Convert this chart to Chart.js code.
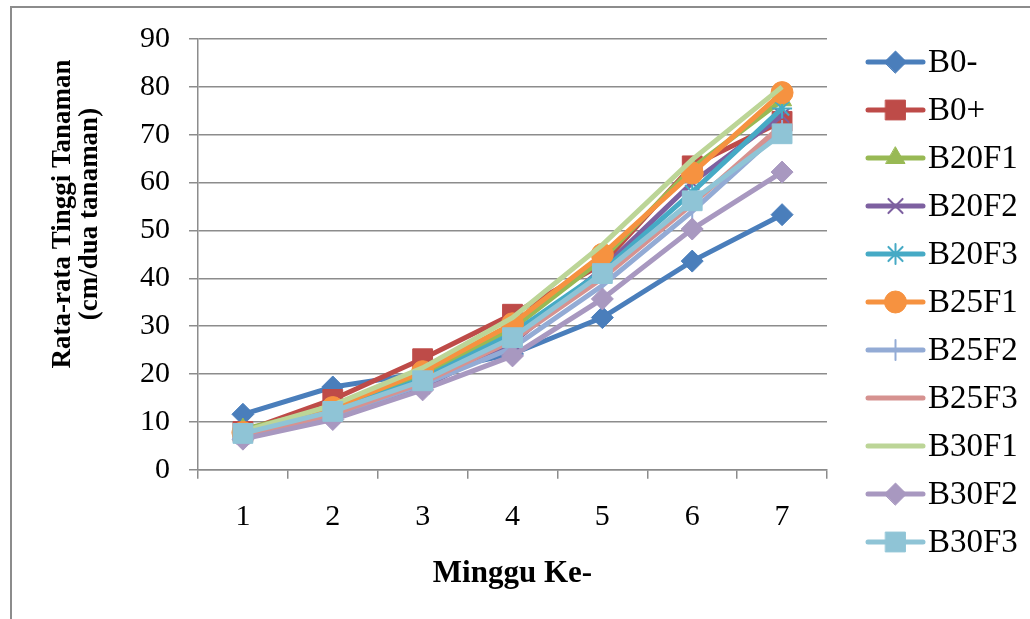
<!DOCTYPE html>
<html>
<head>
<meta charset="utf-8">
<script src="https://cdn.jsdelivr.net/npm/chart.js@4.4.1/dist/chart.umd.min.js"></script>
<style>
  html, body { margin: 0; padding: 0; background: #fff; }
  #wrap { width: 1030px; height: 619px; position: relative; }
</style>
</head>
<body>
<div id="wrap"><canvas id="chart"></canvas></div>
<script>
// minggu ke-
const weeks = ['1', '2', '3', '4', '5', '6', '7'];
const yTicks = [0, 10, 20, 30, 40, 50, 60, 70, 80, 90];

// rata-rata tinggi tanaman per perlakuan
const b0min  = [11.6, 17.3, 20.2, 24.2, 31.8, 43.6, 53.3];
const b0plus = [8.0, 14.7, 23.2, 32.5, 43.0, 63.5, 72.8];
const b20f1  = [8.5, 12.8, 20.0, 29.5, 44.0, 63.0, 77.2];
const b20f2  = [6.9, 11.2, 17.3, 26.5, 42.0, 60.0, 74.0];
const b20f3  = [7.5, 12.2, 19.0, 28.5, 41.5, 58.0, 75.5];
const b25f1  = [7.8, 13.0, 20.5, 30.5, 45.0, 62.0, 78.8];
const b25f2  = [7.0, 11.3, 17.8, 25.5, 38.5, 54.0, 71.0];
const b25f3  = [7.2, 11.6, 18.2, 27.0, 40.0, 55.5, 72.0];
const b30f1  = [8.0, 13.5, 21.3, 31.8, 47.0, 64.8, 80.0];
const b30f2  = [6.4, 10.5, 16.7, 23.8, 35.7, 50.3, 62.2];
const b30f3  = [7.6, 12.2, 18.6, 27.6, 41.0, 56.2, 70.2];

const names  = ['B0-', 'B0+', 'B20F1', 'B20F2', 'B20F3', 'B25F1', 'B25F2', 'B25F3', 'B30F1', 'B30F2', 'B30F3'];
const values = [b0min, b0plus, b20f1, b20f2, b20f3, b25f1, b25f2, b25f3, b30f1, b30f2, b30f3];
const colors = ['#4A7EBB', '#BE4B48', '#98B954', '#7D60A0', '#46AAC5', '#F69240',
                '#93ABD5', '#D69290', '#BCD597', '#A898C0', '#8FC4D6'];
const markers = ['rectRot', 'rect', 'triangle', 'crossRot', 'star', 'circle',
                 'line', false, false, 'rectRot', 'rect'];
const markerSize = [11, 14, 11, 10, 10, 11, 10, 0, 0, 11, 14];

const serif = '"Liberation Serif", "Times New Roman", serif';
const gridColor = '#8C8C8C';

const datasets = names.map((n, i) => ({
  label: n,
  data: values[i],
  borderColor: colors[i],
  backgroundColor: colors[i],
  borderWidth: 5,
  pointStyle: markers[i],
  pointRotation: markers[i] === 'line' ? 90 : 0,
  pointRadius: markerSize[i],
  pointBorderWidth: (markers[i] === 'crossRot' || markers[i] === 'star' || markers[i] === 'line') ? 2 : 1,
  pointHoverRadius: markerSize[i],
  tension: 0,
  order: names.length - i
}));

// bingkai luar + judul sumbu y + legenda
const extras = {
  id: 'extras',
  beforeDraw(chart) {
    const ctx = chart.ctx;
    ctx.save();
    ctx.strokeStyle = gridColor;
    ctx.lineWidth = 2;
    ctx.beginPath();
    ctx.moveTo(11, 640);
    ctx.lineTo(11, 7);
    ctx.lineTo(1040, 7);
    ctx.stroke();
    ctx.restore();
  },
  afterDraw(chart) {
    const ctx = chart.ctx;
    const a = chart.chartArea;
    ctx.save();
    // judul sumbu y
    ctx.fillStyle = '#000';
    ctx.font = 'bold 27px ' + serif;
    ctx.textAlign = 'center';
    ctx.textBaseline = 'middle';
    ctx.translate(a.left - 135, 214);
    ctx.rotate(-Math.PI / 2);
    ctx.fillText('Rata-rata Tinggi Tanaman', 0, 0);
    ctx.fillText('(cm/dua tanaman)', 0, 27);
    ctx.restore();

    // legenda
    ctx.save();
    const x0 = a.right + 41;
    names.forEach((n, i) => {
      const y = 62 + i * 48;
      ctx.strokeStyle = colors[i];
      ctx.lineWidth = 5;
      ctx.lineCap = 'round';
      ctx.beginPath();
      ctx.moveTo(x0, y);
      ctx.lineTo(x0 + 55, y);
      ctx.stroke();
      if (markers[i]) {
        ctx.fillStyle = colors[i];
        ctx.lineWidth = datasets[i].pointBorderWidth;
        Chart.helpers.drawPoint(ctx, {
          pointStyle: markers[i],
          rotation: datasets[i].pointRotation,
          radius: markerSize[i],
          borderWidth: datasets[i].pointBorderWidth
        }, x0 + 27.5, y);
      }
      ctx.fillStyle = '#000';
      ctx.font = '33px ' + serif;
      ctx.textAlign = 'left';
      ctx.textBaseline = 'middle';
      ctx.fillText(n, x0 + 60, y + 1);
    });
    ctx.restore();
  }
};

new Chart(document.getElementById('chart'), {
  type: 'line',
  data: { labels: weeks, datasets: datasets },
  options: {
    responsive: true,
    maintainAspectRatio: false,
    animation: false,
    layout: { padding: { left: 121, right: 203, top: 39, bottom: 22 } },
    plugins: {
      legend: { display: false },
      tooltip: { enabled: false }
    },
    scales: {
      x: {
        offset: true,
        grid: {
          offset: true,
          drawOnChartArea: false,
          drawTicks: true,
          tickLength: 9,
          color: gridColor,
          lineWidth: 1.5
        },
        border: { color: gridColor, width: 1.5 },
        ticks: { color: '#000', font: { family: serif, size: 30 }, padding: 20 },
        title: {
          display: true,
          text: 'Minggu Ke-',
          color: '#000',
          font: { family: serif, size: 31, weight: 'bold' },
          padding: { top: 1, bottom: 4 }
        }
      },
      y: {
        min: 0,
        max: 90,
        afterBuildTicks: s => { s.ticks = yTicks.map(v => ({ value: v })); },
        grid: { color: gridColor, lineWidth: 1.5, tickLength: 9 },
        border: { color: gridColor, width: 1.5 },
        ticks: { color: '#000', font: { family: serif, size: 30 }, padding: 19 }
      }
    }
  },
  plugins: [extras]
});
</script>
</body>
</html>
